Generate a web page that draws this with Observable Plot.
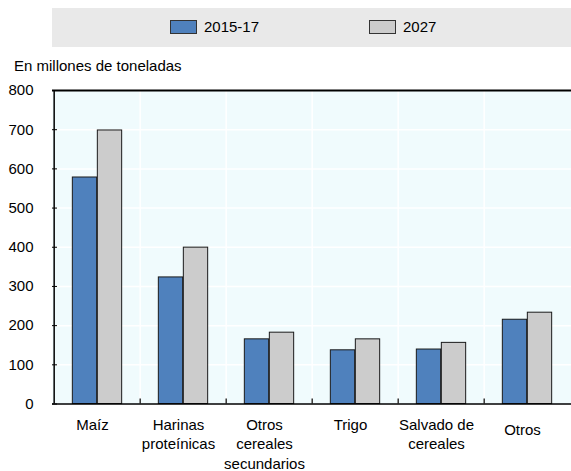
<!DOCTYPE html>
<html><head><meta charset="utf-8">
<script src="https://cdn.jsdelivr.net/npm/d3@7"></script>
<script src="https://cdn.jsdelivr.net/npm/@observablehq/plot@0.6"></script>
<style>
body{margin:0;background:#fff;font-family:"Liberation Sans",Arial,sans-serif;}
#wrap{position:relative;width:571px;height:471px;overflow:hidden;}
#legend{position:absolute;left:52px;top:8px;width:519px;height:39px;background:#e9e9e9;}
.sw{position:absolute;top:12px;width:27px;height:14px;border:1px solid #333;box-sizing:border-box;}
.lt{position:absolute;top:10px;font-size:15px;color:#000;}
#sub{position:absolute;left:14px;top:57px;font-size:15px;color:#000;}
#chart{position:absolute;left:0;top:0;}
</style></head>
<body><div id="wrap">
<div id="chart"></div>
<div id="legend"></div>
<div id="sub"></div>
</div>
<script>
const categories = ["Maíz","Harinas\nproteínicas","Otros\ncereales\nsecundarios","Trigo","Salvado de\ncereales","Otros"];
const series = ["2015-17","2027"];
const v2015 = [578, 323, 165, 137, 139, 215];
const v2027 = [698, 399, 182, 165, 156, 233];
const yTicks = [0,100,200,300,400,500,600,700,800];
const subtitle = "En millones de toneladas";
const colors = ["#4f81bd","#cccccc"];

const data = categories.map((c,i)=>({cat:c, a:v2015[i], b:v2027[i]}));
const step = 520/categories.length;
const half = step/2;
const barW = 25;

const legend = document.getElementById("legend");
const lx = [118, 317];
series.forEach((s,i)=>{
  const sw = document.createElement("div"); sw.className="sw";
  sw.style.left = lx[i]+"px"; sw.style.background = colors[i];
  legend.appendChild(sw);
  const t = document.createElement("div"); t.className="lt";
  t.style.left = (lx[i]+34)+"px"; t.textContent = s;
  legend.appendChild(t);
});
document.getElementById("sub").textContent = subtitle;

const chart = Plot.plot({
  width: 571, height: 471,
  marginTop: 90, marginBottom: 67.5, marginLeft: 52, marginRight: 0,
  style: {fontFamily: '"Liberation Sans",Arial,sans-serif', fontSize: "15px", color: "#000", background: "transparent"},
  x: {type: "band", domain: categories, range: [52, 572], padding: 0, axis: null},
  y: {domain: [0, 800], ticks: yTicks, label: null},
  marks: [
    Plot.frame({fill: "#f0fbfd", stroke: null}),
    Plot.ruleY(yTicks.slice(1,-1), {stroke: "#fff", strokeWidth: 1.5}),
    Plot.ruleX(categories.slice(1), {x: d=>d, dx: -half, stroke: "#fff", strokeWidth: 1.5}),
    Plot.barY(data, {x: "cat", y: "a", fill: colors[0], stroke: "#1a1a1a", strokeWidth: 1, insetLeft: half-barW, insetRight: half}),
    Plot.barY(data, {x: "cat", y: "b", fill: colors[1], stroke: "#1a1a1a", strokeWidth: 1, insetLeft: half, insetRight: half-barW}),
    Plot.ruleX(categories.slice(1), {x: d=>d, dx: -half, y1: 0, y2: 13, stroke: "#000", strokeWidth: 1.2}),
    Plot.ruleX([categories[0]], {x: d=>d, dx: -half, y1: 0, y2: 800, stroke: "#000", strokeWidth: 1.5}),
    Plot.ruleY([0], {stroke: "#000", strokeWidth: 1.5}),
    Plot.ruleY([800], {stroke: "#000", strokeWidth: 2}),
    Plot.axisY({ticks: yTicks, tickSize: -5, tickPadding: 24, fontSize: 15, label: null, tickFormat: d=>String(d)}),
    Plot.text(categories.slice(0,-1), {x: d=>d, y: 0, text: d=>d, dx: -5, dy: 12, lineAnchor: "top", lineHeight: 1.3, fontSize: 15, fill: "#000"}),
    Plot.text(categories.slice(-1), {x: d=>d, y: 0, text: d=>d, dx: -5, dy: 17, lineAnchor: "top", lineHeight: 1.3, fontSize: 15, fill: "#000"})
  ]
});
document.getElementById("chart").appendChild(chart);
</script>
</body></html>
